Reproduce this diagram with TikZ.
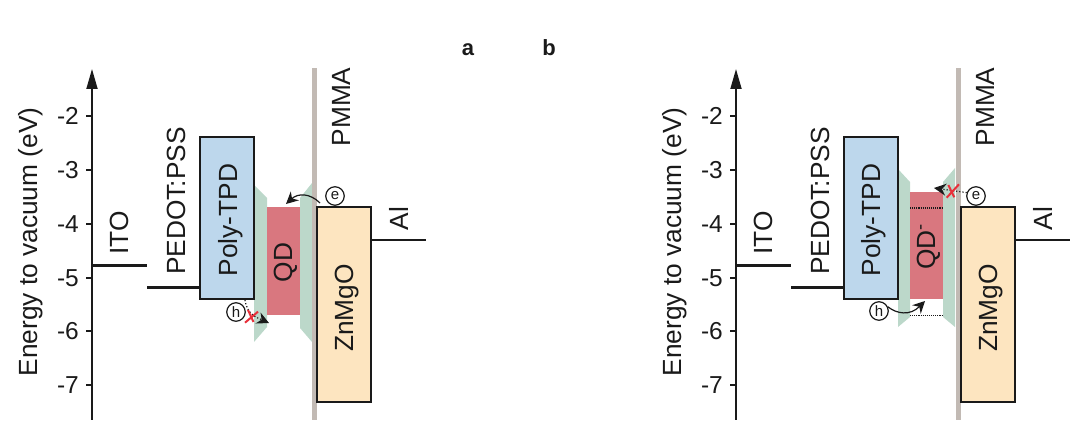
\documentclass[tikz,border=0pt]{standalone}
\usepackage{fontspec}
\setmainfont{Liberation Sans}
\usetikzlibrary{arrows.meta,calc}
\definecolor{blueL}{HTML}{BDD7EC}
\definecolor{greenL}{HTML}{BCD8CA}
\definecolor{redL}{HTML}{D9777F}
\definecolor{orangeL}{HTML}{FDE5C0}
\definecolor{pmmaC}{HTML}{C2BAB4}
\definecolor{inkC}{HTML}{1A1A1A}
\definecolor{crossC}{HTML}{E8303A}
\tikzset{
  x=1pt,y=-1pt,
  txt/.style={font=\fontsize{24.5}{28}\selectfont,text=inkC,inner sep=0pt},
  vtxt/.style={font=\fontsize{26.3}{30}\selectfont,text=inkC,inner sep=0pt,rotate=90,anchor=base},
  paneltag/.style={font=\fontsize{22}{22}\bfseries\selectfont,inner sep=0pt,anchor=base,text=inkC},
  layer/.style={draw=inkC,line width=2pt,inner sep=0pt,minimum width=#1},
  level/.style={draw=inkC,line width=3pt},
  thin level/.style={draw=inkC,line width=1.8pt},
  carrier/.style={circle,draw=inkC,line width=1.2pt,fill=white,minimum size=18.5pt,inner sep=0pt,font=\fontsize{15}{15}\selectfont,text=inkC},
  hop/.style={draw=inkC,line width=1.2pt,-{Stealth[length=12pt,width=12pt]}},
  blocked/.style={draw=inkC,line width=1.2pt,dotted,-{Stealth[length=12pt,width=12pt]}},
  dots/.style={draw=inkC,line width=1.1pt,densely dotted},
  nogo/.style={draw=crossC,line width=2pt},
  axisline/.style={draw=inkC,line width=1.8pt},
  tick/.style={draw=inkC,line width=1.2pt}
}
\newcommand{\panelcommon}{%
  \fill[pmmaC] (312,68) rectangle (317,420);
  \coordinate (axb) at (92,420);
  \coordinate (axt) at (92,69);
  \draw[axisline,-{Triangle[length=20pt,width=11pt]}] (axb) -- (axt);
  \foreach \v/\y in {2/116,3/170,4/224,5/278,6/331,7/385}{
    \coordinate (tk\v) at (92,\y);
    \draw[tick] (tk\v) -- ++(-6,0);
    \node[txt,anchor=east] at (79,\y) {-\v};
  }
  \node[vtxt] at (37,242) {Energy to vacuum (eV)};
  \coordinate (itoL) at (92,266); \coordinate (itoR) at (147,266);
  \draw[level] (itoL) -- (itoR);
  \coordinate (pedL) at (147,288); \coordinate (pedR) at (200,288);
  \draw[level] (pedL) -- (pedR);
  \node[vtxt] at (128,233) {ITO};
  \node[vtxt] at (185,201) {PEDOT:PSS};
  \node[layer=54pt,minimum height=162pt,fill=blueL] (tpd) at (227,218) {};
  \node[layer=54pt,minimum height=195pt,fill=orangeL] (znmgo) at (344,304.5) {};
  \node[vtxt] at (353,308) {ZnMgO};
  \coordinate (alL) at (371,240); \coordinate (alR) at (426,240);
  \draw[thin level] (alL) -- (alR);
  \node[vtxt] at (408,218.5) {Al};
  \node[vtxt] at (350,107) {PMMA};
}
\begin{document}
\begin{tikzpicture}
\useasboundingbox (0,0) rectangle (1080,446);
\node[paneltag] (la) at (468,56) {a};
\node[paneltag] (lb) at (549,56) {b};
% panel a
\begin{scope}[name prefix=a-]
  \fill[greenL] (254,185) -- (267,198) -- (267,327) -- (254,342) -- cycle;
  \fill[greenL] (312,183) -- (300,198) -- (300,328) -- (312,342) -- cycle;
  \panelcommon
  \node[vtxt] at (237,220) {Poly-TPD};
  \node[fill=redL,minimum width=33pt,minimum height=107.5pt,inner sep=0pt] (qd) at (283.5,261.25) {};
  \node[vtxt] at (292,262.5) {QD};
  \coordinate (eFrom) at (320,203);
  \coordinate (eTo) at (286,204);
  \coordinate (hFrom) at (245,300);
  \coordinate (hTo) at (269,323);
  \draw[hop] (eFrom) .. controls (310,193) and (298,193) .. (eTo);
  \draw[blocked] (hFrom) .. controls (247,315) and (258,318) .. (hTo);
  \node[carrier] (e) at (335,196) {e};
  \node[carrier] (h) at (236,312) {h};
  \draw[nogo] (245,322.7) -- (258,311.7);
  \draw[nogo] (248,310) -- (253.5,322);
\end{scope}
% panel b
\begin{scope}[shift={(644,0)},name prefix=b-]
  \fill[greenL] (254,169) -- (266,182) -- (266,317) -- (254,327) -- cycle;
  \fill[greenL] (311,168) -- (299,182) -- (299,317) -- (311,327) -- cycle;
  \panelcommon
  \node[vtxt] at (236,220) {Poly-TPD};
  \node[fill=redL,minimum width=33pt,minimum height=107pt,inner sep=0pt] (qd) at (282.5,245.5) {};
  \node[vtxt] at (291,246.5) {QD\textsuperscript{-}};
  \coordinate (lumoL) at (266,208); \coordinate (lumoR) at (299,208);
  \coordinate (homoL) at (266,315.5); \coordinate (homoR) at (299,315.5);
  \draw[dots] (lumoL) -- (lumoR);
  \draw[dots] (homoL) -- (homoR);
  \node[carrier] (e) at (332,196) {e};
  \node[carrier] (h) at (235,311) {h};
  \coordinate (eTo) at (290,188);
  \coordinate (hTo) at (281,301);
  \draw[blocked] (e.160) -- (eTo);
  \draw[hop] (h.25) .. controls (253,314) and (266,316) .. (hTo);
  \draw[nogo] (302.7,197.7) -- (315,184.3);
  \draw[nogo] (304.3,185) -- (310.3,197.3);
\end{scope}
\end{tikzpicture}
\end{document}
